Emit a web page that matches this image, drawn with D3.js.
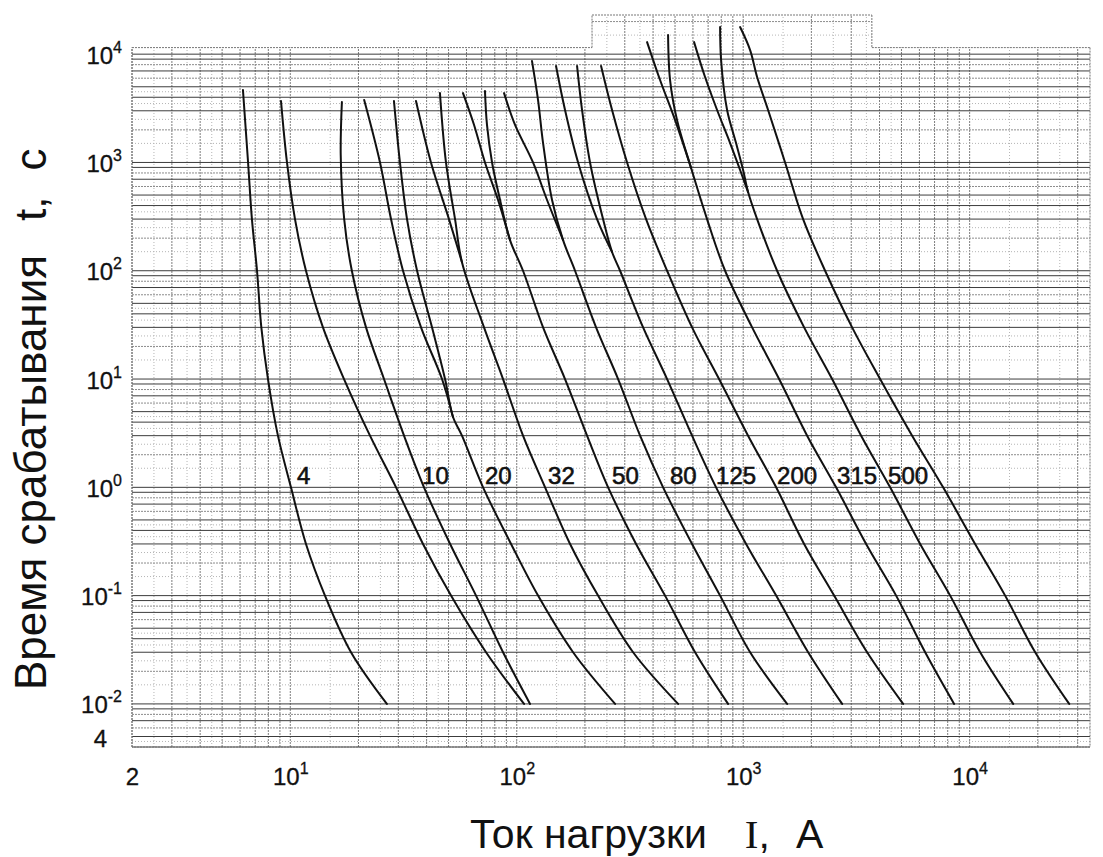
<!DOCTYPE html>
<html>
<head>
<meta charset="utf-8">
<script src="https://cdnjs.cloudflare.com/ajax/libs/d3/7.8.5/d3.min.js"></script>
<style>
body{margin:0;background:#fff;}
svg{display:block;font-family:"Liberation Sans",Arial,sans-serif;}
</style>
</head>
<body>
<svg id="chart" width="1103" height="857"></svg>
<script>
// axis limits
var xDomain = [2, 34000];
var yDomain = [0.004, 23000];
var mainTop = 11500;          // top edge of the main grid
var extRange = [215, 3700];   // raised part of the grid above mainTop

var xTicks = [2, 10, 100, 1000, 10000];
var xTickBase = ['2', '10', '10', '10', '10'];
var xTickExp = ['', '1', '2', '3', '4'];
var yTicks = [10000, 1000, 100, 10, 1, 0.1, 0.01, 0.004];
var yTickBase = ['10', '10', '10', '10', '10', '10', '10', '4'];
var yTickExp = ['4', '3', '2', '1', '0', '-1', '-2', ''];

// multipliers inside a decade
var gridSteps = [1, 1.5, 2, 2.5, 3, 3.5, 4, 4.5, 5, 6, 7, 8, 9];
var darkRules = [1, 3, 4, 5, 7, 9];   // heavy horizontal rules of the paper

// curves, [current A, time s]
var curveA = [[6.18,4660],[6.51,1000],[6.77,300],[7.13,100],[7.45,30],[7.97,10],[8.82,3],[10.07,1],[11.73,0.3],[14.23,0.1],[18.54,0.03],[26.7,0.01]];
var curveB = [[9.1,3690],[9.67,1000],[10.49,300],[11.73,100],[13.94,30],[17.27,10],[22.49,3],[29.31,1],[38.56,0.3],[51.26,0.1],[73.17,0.03],[107.7,0.01]];
var curveC = [[16.9,3610],[16.7,1170],[17.3,300],[18.7,100],[21.6,30],[25.93,10],[31.79,3],[38.95,1],[50.8,0.3],[66.1,0.1],[87.0,0.03],[114.5,0.01]];
var curveDE = [[28.7,3690],[30.5,1000],[32.77,300],[36.3,100],[42.25,30],[48.24,10],[52.3,4.46],[57.3,3],[71.0,1],[94.4,0.3],[124.2,0.1],[177.3,0.03],[271.8,0.01]];
var curveFG = [[45.8,4370],[48.7,1000],[53.4,300],[57.3,120],[71.7,30],[87.0,10],[106.6,3],[133.4,1],[172,0.3],[228.6,0.1],[326.4,0.03],[515.8,0.01]];
var curveHI = [[72.4,4560],[73.9,2220],[77.8,1000],[84.4,450],[93.4,192],[106.6,100],[130.7,30],[163.4,10],[204.4,3],[253.2,1],[336.5,0.3],[451.9,0.1],[613.1,0.03],[857.6,0.01]];
var curveJK = [[116.8,8630],[124.2,3770],[130.7,1510],[143.2,450],[160.2,192],[180.9,100],[224,30],[280.3,10],[350.5,3],[442.9,1],[594.5,0.3],[790.7,0.1],[1073,0.03],[1563,0.01]];
var curveLM = [[184.7,7770],[194.3,3050],[210.7,1000],[240.5,300],[263.6,149],[286,100],[361.4,30],[461.3,10],[594.5,3],[759.1,1],[1030,0.3],[1398,0.1],[1935,0.03],[2735,0.01]];
var curveN = [[235.7,7770],[263.6,3050],[307.1,1000],[372.5,300],[461.3,100],[594.5,30],[782.5,10],[1051,3],[1398,1],[1858,0.3],[2521,0.1],[3526,0.03],[5085,0.01]];
var curveOP = [[465.9,15010],[475.4,5770],[510.5,2460],[588.8,888],[692.4,300],[831.8,100],[1095,30],[1441,10],[1916,3],[2572,1],[3490,0.3],[4735,0.1],[6361,0.03],[8541,0.01]];
var curveQR = [[790.7,17800],[798.8,8820],[849,3050],[930,1510],[999,852],[1051,533],[1152,300],[1412,100],[1858,30],[2470,10],[3318,3],[4455,1],[6046,0.3],[8203,0.1],[11130,0.03],[15570,0.01]];
var curveS = [[969,17800],[1073,10910],[1152,6150],[1288,3050],[1531,1000],[1839,300],[2300,100],[3027,30],[4024,10],[5572,3],[7636,1],[10570,0.3],[14350,0.1],[19470,0.03],[27520,0.01]];

// upper branches that run into one of the curves above
var branchD = [[21.2,3770],[24.9,1000],[27.85,300],[31.46,100],[37.79,30],[46.77,10],[52.3,4.46]];
var branchF = [[35.9,3690],[41.8,1000],[50.2,300],[57.3,120]];
var branchH = [[57.9,4370],[64.8,2220],[72.4,1000],[82.7,450],[93.4,192]];
var branchJ = [[87.9,4370],[98.3,2220],[118,1000],[136.1,450],[160.2,192]];
var branchL = [[149.1,7770],[163.4,3050],[186.6,1000],[226.2,300],[263.6,149]];
var branchO = [[376.3,12930],[429.5,5770],[500.3,2460],[588.8,888]];
var branchQ = [[606.9,12930],[678.6,6150],[766.9,3050],[875.3,1510],[969,852],[1051,533]];

// rating labels (left end of text, baseline)
var labelText = ['4','10','20','32','50','80','125','200','315','500'];
var labelI = [10.7, 38.2, 72.4, 137.5, 263.6, 475, 759, 1412, 2598, 4365];
var labelT = 1.08;

var svg = d3.select('#chart');
var x = d3.scaleLog().domain(xDomain).range([132, 1090]);
var y = d3.scaleLog().domain(yDomain).range([747, 15]);

svg.append('rect').attr('width',1103).attr('height',857).attr('fill','#fff');

function decadeValues(k0, k1, lo, hi){
	var out = [];
	for(var k=k0;k<=k1;k++){
		gridSteps.forEach(function(m){
			var v = m*Math.pow(10,k);
			if(v >= lo*0.9999 && v <= hi*1.0001) out.push({v:v, m:m});
		});
	}
	return out;
}

var grid = svg.append('g');

//vertical lines
decadeValues(0, 4, xDomain[0], xDomain[1]).forEach(function(d){
	var inExt = d.v >= extRange[0] && d.v <= extRange[1];
	var half = d.m % 1 !== 0;
	grid.append('line')
		.attr('x1', x(d.v)).attr('x2', x(d.v))
		.attr('y1', y(yDomain[0])).attr('y2', y(inExt ? yDomain[1] : mainTop))
		.attr('stroke', half ? '#b5b5b5' : '#7d7d7d')
		.attr('stroke-width', 1)
		.attr('stroke-dasharray', half ? '1,2' : '2,1');
});

//horizontal lines
decadeValues(-3, 4, yDomain[0], yDomain[1]).forEach(function(d){
	var ext = d.v > mainTop*1.0001;
	var half = d.m % 1 !== 0;
	var dark = darkRules.indexOf(d.m) !== -1;
	grid.append('line')
		.attr('x1', x(ext ? extRange[0] : xDomain[0])).attr('x2', x(ext ? extRange[1] : xDomain[1]))
		.attr('y1', y(d.v)).attr('y2', y(d.v))
		.attr('stroke', dark ? '#3c3c3c' : (half ? '#b5b5b5' : '#8c8c8c'))
		.attr('stroke-width', 1)
		.attr('stroke-dasharray', dark ? null : (half ? '1,2' : '2,1'));
});

//frame
var frame = [
	[[xDomain[0], yDomain[0]], [xDomain[0], mainTop]],
	[[xDomain[0], mainTop], [extRange[0], mainTop]],
	[[extRange[1], mainTop], [xDomain[1], mainTop]],
	[[xDomain[1], mainTop], [xDomain[1], yDomain[0]]],
	[[xDomain[1], yDomain[0]], [xDomain[0], yDomain[0]]],
	[[extRange[0], mainTop], [extRange[0], yDomain[1]]],
	[[extRange[0], yDomain[1]], [extRange[1], yDomain[1]]],
	[[extRange[1], yDomain[1]], [extRange[1], mainTop]]
];
frame.forEach(function(s){
	grid.append('line')
		.attr('x1', x(s[0][0])).attr('y1', y(s[0][1]))
		.attr('x2', x(s[1][0])).attr('y2', y(s[1][1]))
		.attr('stroke', '#777').attr('stroke-width', 1).attr('stroke-dasharray', '2,1');
});

//curves
var line = d3.line().x(function(d){return x(d[0])}).y(function(d){return y(d[1])}).curve(d3.curveCatmullRom.alpha(0.5));
var curves = [curveA, curveB, curveC, curveDE, curveFG, curveHI, curveJK, curveLM, curveN, curveOP, curveQR, curveS,
	branchD, branchF, branchH, branchJ, branchL, branchO, branchQ];
svg.append('g').selectAll('path').data(curves).enter().append('path')
	.attr('d', line).attr('fill','none').attr('stroke','#111').attr('stroke-width',2).attr('stroke-linecap','round');

//rating labels
svg.append('g').selectAll('text').data(labelText).enter().append('text')
	.attr('x', function(d,i){return x(labelI[i])}).attr('y', y(labelT))
	.attr('font-size', 24).attr('fill', '#111').attr('stroke','#111').attr('stroke-width',0.6)
	.text(function(d){return d});

//axes
var gx = svg.append('g').attr('transform','translate(0,747)')
	.call(d3.axisBottom(x).tickValues(xTicks).tickSize(0).tickFormat(''));
gx.select('.domain').remove();
gx.attr('font-family', null).attr('font-size', 24);
gx.selectAll('.tick text').each(function(d,i){
	var t = d3.select(this).attr('y', 38).attr('dy', null).attr('fill','#111').attr('stroke','#111').attr('stroke-width',0.3);
	t.append('tspan').text(xTickBase[i]);
	if(xTickExp[i]) t.append('tspan').attr('dy', -11).attr('font-size', 16).text(xTickExp[i]);
});

var gy = svg.append('g').attr('transform','translate(132,0)')
	.call(d3.axisLeft(y).tickValues(yTicks).tickSize(0).tickFormat(''));
gy.select('.domain').remove();
gy.attr('font-family', null).attr('font-size', 24);
gy.selectAll('.tick text').each(function(d,i){
	var t = d3.select(this).attr('x', yTickExp[i] ? -10 : -25).attr('dy', yTickExp[i] ? 9 : -1)
		.attr('fill','#111').attr('stroke','#111').attr('stroke-width',0.3);
	t.append('tspan').text(yTickBase[i]);
	if(yTickExp[i]) t.append('tspan').attr('dy', -11).attr('font-size', 16).text(yTickExp[i]);
});

//axis titles
var xt = svg.append('text').attr('x', 470).attr('y', 848).attr('font-size', 41).attr('fill','#111');
xt.append('tspan').text('Ток нагрузки');
xt.append('tspan').attr('dx', 38).attr('font-family','"Liberation Serif","Times New Roman",serif').text('I');
xt.append('tspan').text(',');
xt.append('tspan').attr('dx', 26).text('A');

var yt = svg.append('text').attr('transform','translate(46,690) rotate(-90)').attr('font-size', 44).attr('fill','#111');
yt.append('tspan').text('Время срабатывания');
yt.append('tspan').attr('dx', 34).text('t,');
yt.append('tspan').attr('dx', 26).text('с');
</script>
</body>
</html>
